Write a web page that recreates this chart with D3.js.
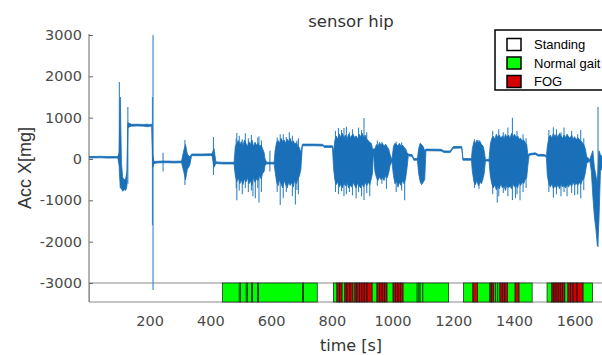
<!DOCTYPE html>
<html>
<head>
<meta charset="utf-8">
<script src="https://cdn.jsdelivr.net/npm/d3@7"></script>
<style>
  body { margin: 0; background: #fff; }
</style>
</head>
<body>
<div id="chart"></div>
<script>
// activity states: 0 standing, 1 normal gait, 2 FOG
var stateNames = ["Standing", "Normal gait", "FOG"];
var stateColors = ["#ffffff", "#00ff00", "#d40000"];

// annotation segments [start s, end s, state]
var segments = [
  [0, 440, 0], [440, 495, 1], [495, 499, 1], [499, 518, 1], [518, 522, 1], [522, 535, 1], [535, 539, 1],
  [539, 555, 1], [555, 559, 1], [559, 703, 1], [703, 707, 1], [707, 752, 1], [752, 805, 0],
  [805, 817, 1], [817, 826, 2], [826, 834, 2], [834, 843, 1], [843, 850, 2], [850, 860, 2], [860, 870, 2],
  [870, 876, 1], [876, 883, 2], [883, 891, 2], [891, 899, 2], [899, 907, 2], [907, 916, 2], [916, 933, 2],
  [933, 949, 1], [949, 958, 2], [958, 966, 2], [966, 974, 2], [974, 982, 2], [982, 1002, 1],
  [1002, 1010, 2], [1010, 1018, 2], [1018, 1026, 2], [1026, 1035, 2], [1035, 1081, 1], [1081, 1087, 1],
  [1087, 1091, 1], [1091, 1100, 1], [1100, 1185, 1], [1185, 1234, 0], [1234, 1265, 1], [1265, 1280, 2],
  [1280, 1321, 1], [1321, 1327, 2], [1327, 1334, 2], [1334, 1340, 1], [1340, 1347, 1], [1347, 1354, 1],
  [1354, 1362, 2], [1362, 1370, 2], [1370, 1379, 2], [1379, 1404, 1], [1404, 1417, 2], [1417, 1460, 1],
  [1460, 1509, 0], [1509, 1525, 1], [1525, 1532, 2], [1532, 1539, 2], [1539, 1546, 2], [1546, 1553, 2],
  [1553, 1560, 2], [1560, 1568, 2], [1568, 1578, 1], [1578, 1586, 2], [1586, 1595, 2], [1595, 1608, 2],
  [1608, 1628, 2], [1628, 1659, 1], [1659, 1700, 0]
];

// dense core of the acceleration trace [time s, min mg, max mg]
var envelope = [
  [0, 25, 60], [40, 30, 65], [60, 22, 58], [95, 25, 60],
  [99, -150, 150], [103, -700, 1500], [107, -720, -100], [111, -780, -450], [116, -740, -500],
  [121, -760, -480], [125, -650, -300],
  [128, 760, 880], [140, 795, 840], [160, 800, 840], [180, 795, 835], [192, 780, 840], [200, 795, 835], [207, 790, 840],
  [210, -200, 100], [214, -110, -60], [225, -95, -55], [240, -90, -50], [260, -90, -50], [280, -95, -55],
  [305, -90, -50], [312, -300, 200], [318, -500, 350], [324, -250, 120], [332, -150, 50],
  [338, 80, 120], [370, 80, 120], [405, 85, 125], [412, -200, 250], [418, -110, -70], [440, -120, -80], [478, -120, -80],
  [482, -400, 300], [487, -550, 380], [492, -450, 450], [497, -600, 350], [502, -500, 420], [507, -620, 300],
  [512, -480, 460], [517, -560, 380], [522, -450, 300], [527, -600, 420], [532, -520, 350], [537, -640, 460],
  [542, -450, 300], [547, -560, 400], [552, -480, 330], [557, -520, 380], [562, -400, 300], [567, -480, 340],
  [572, -350, 250], [577, -300, 150], [580, -150, 0],
  [585, -120, -80], [602, -120, -80], [610, -120, -80],
  [613, -300, 200], [618, -550, 400], [623, -650, 450], [628, -500, 380], [633, -600, 500], [638, -700, 420],
  [643, -520, 460], [648, -620, 380], [653, -700, 480], [658, -560, 420], [663, -640, 500], [668, -560, 380],
  [673, -680, 440], [678, -500, 360], [683, -600, 400], [688, -480, 300], [693, -420, 280], [698, -250, 150],
  [703, 320, 360], [740, 320, 360], [770, 315, 355], [775, 280, 320], [802, 280, 320],
  [806, -250, 200], [810, -500, 450], [815, -620, 550], [820, -550, 480], [825, -680, 600], [830, -600, 520],
  [835, -700, 620], [840, -580, 500], [845, -650, 580], [850, -560, 480], [855, -700, 600], [860, -620, 520],
  [865, -680, 560], [870, -560, 600], [875, -640, 520], [880, -700, 560], [885, -580, 480], [890, -650, 600],
  [895, -700, 540], [900, -600, 620], [905, -680, 520], [910, -560, 580], [915, -650, 480], [920, -560, 450],
  [925, -620, 400], [930, -480, 380], [934, -350, 250], [937, 190, 240],
  [942, -300, 250], [947, -450, 350], [952, -520, 300], [957, -430, 400], [962, -500, 330], [967, -450, 380],
  [972, -520, 300], [977, -400, 360], [982, -460, 300], [987, -350, 250], [992, -150, 100], [998, -60, -20],
  [1003, -400, 300], [1008, -600, 380], [1013, -520, 350], [1018, -680, 320], [1023, -560, 380], [1028, -640, 300],
  [1033, -520, 340], [1038, -600, 280], [1043, -480, 250], [1048, -200, 150],
  [1052, 80, 120], [1065, 60, 100], [1070, -30, 10], [1082, -30, 10],
  [1086, -350, 250], [1091, -550, 380], [1096, -620, 350], [1101, -560, 300], [1106, -500, 200],
  [1110, 200, 240], [1160, 195, 235], [1170, 155, 195], [1190, 155, 195], [1200, 260, 300], [1228, 265, 305],
  [1232, -30, 10], [1260, -30, 10],
  [1263, -300, 250], [1268, -550, 420], [1273, -620, 380], [1278, -520, 460], [1283, -650, 400], [1288, -560, 430],
  [1293, -600, 350], [1298, -480, 320], [1302, -350, 200], [1306, -50, -10], [1318, -50, -10],
  [1322, -400, 350], [1327, -600, 500], [1332, -700, 550], [1337, -620, 480], [1342, -750, 600], [1347, -650, 520],
  [1352, -720, 580], [1357, -600, 500], [1362, -700, 560], [1367, -640, 480], [1372, -760, 600], [1377, -620, 520],
  [1382, -700, 580], [1387, -650, 500], [1392, -720, 620], [1397, -600, 540], [1402, -680, 600], [1407, -620, 520],
  [1412, -700, 560], [1417, -560, 480], [1422, -640, 500], [1427, -560, 440], [1432, -600, 460], [1437, -500, 400],
  [1442, -450, 350], [1446, -150, 100],
  [1450, 90, 130], [1470, 110, 150], [1480, 70, 110], [1500, 70, 110], [1507, 40, 80],
  [1510, -400, 300], [1515, -600, 520], [1520, -680, 580], [1525, -600, 500], [1530, -720, 620], [1535, -640, 540],
  [1540, -700, 600], [1545, -620, 520], [1550, -720, 620], [1555, -600, 560], [1560, -680, 500], [1565, -640, 580],
  [1570, -700, 520], [1575, -620, 600], [1580, -680, 540], [1585, -600, 500], [1590, -660, 580], [1595, -560, 480],
  [1600, -640, 540], [1605, -580, 460], [1610, -640, 520], [1615, -560, 480], [1620, -620, 440], [1625, -520, 400],
  [1630, -480, 350], [1635, -350, 250], [1640, -100, 50], [1650, -50, -10],
  [1655, -300, 100], [1660, -900, 200], [1665, -1400, -200], [1670, -1700, -400], [1675, -2100, -600],
  [1680, -1500, 200], [1685, -300, 100], [1700, -60, -20]
];

// single tall excursions [time s, min mg, max mg]
var spikes = [
  [100, -100, 1860], [128, -600, 1260], [209, -1600, 1500], [211, -3170, 3000], [244, -300, 150],
  [316, -630, 460], [410, -390, 530],
  [485, -700, 500], [487, -1000, 630], [495, -760, 560], [505, -850, 480], [515, -700, 620], [525, -800, 500],
  [535, -760, 580], [540, -900, 300], [548, -950, 400], [556, -700, 520], [560, -1050, 550], [568, -800, 450],
  [596, -300, 200],
  [620, -800, 520], [630, -1110, 600], [640, -950, 600], [650, -800, 530], [660, -300, 650], [670, -900, 560],
  [680, -1100, 300], [685, -750, 450], [690, -850, 500],
  [812, -800, 680], [822, -850, 750], [832, -780, 700], [840, -900, 750], [848, -850, 780], [858, -800, 650],
  [868, -880, 720], [880, -950, 500], [888, -800, 760], [898, -900, 700], [906, -990, 990], [915, -820, 650],
  [925, -900, 300], [950, -650, 450], [965, -600, 420], [980, -720, 300],
  [1012, -800, 420], [1030, -760, 400], [1040, -1000, 200],
  [1270, -700, 480], [1285, -720, 460],
  [1330, -850, 680], [1345, -1060, 500], [1350, -900, 720], [1365, -820, 650], [1380, -900, 760],
  [1395, -990, 1000], [1405, -950, 300], [1410, -850, 680], [1420, -1000, 400], [1430, -800, 600], [1440, -700, 500],
  [1515, -800, 700], [1530, -940, 770], [1540, -850, 720], [1555, -900, 650], [1565, -800, 760], [1575, -900, 500],
  [1590, -820, 680], [1600, -880, 300], [1610, -860, 600], [1620, -950, 700], [1630, -750, 500],
  [1677, -2130, 1260]
];

var xTicks = [200, 400, 600, 800, 1000, 1200, 1400, 1600];
var yTicks = [-3000, -2000, -1000, 0, 1000, 2000, 3000];

var w = 602, h = 355;
var lineBlue = "#1a70b8";
var textGray = "#4a4a4a";

var x = d3.scaleLinear().domain([0, 1700]).range([89, 605]);
var y = d3.scaleLinear().domain([-3000, 3000]).range([283, 35]);
var bandLow = -3460;   // bottom of the annotation strip

var svg = d3.select("#chart").append("svg")
    .attr("width", w)
    .attr("height", h)
    .style("font-family", "DejaVu Sans, sans-serif");

svg.append("defs").append("clipPath").attr("id", "plotClip")
  .append("rect")
    .attr("x", x(0)).attr("y", 0)
    .attr("width", w - x(0)).attr("height", h);

//annotation strip
var band = svg.append("g").attr("clip-path", "url(#plotClip)");
band.append("rect")
    .attr("x", x(0)).attr("y", y(-3000))
    .attr("width", x(1700) - x(0))
    .attr("height", y(bandLow) - y(-3000))
    .attr("fill", "#fff")
    .attr("stroke", "#8a8a8a")
    .attr("stroke-width", 1);

band.selectAll("rect.seg")
    .data(segments.filter(function (d) { return d[2] !== 0; }))
  .enter().append("rect")
    .attr("class", "seg")
    .attr("x", function (d) { return x(d[0]); })
    .attr("y", y(-3000))
    .attr("width", function (d) { return x(d[1]) - x(d[0]); })
    .attr("height", y(bandLow) - y(-3000))
    .attr("fill", function (d) { return stateColors[d[2]]; })
    .attr("stroke", "#1a1a1a")
    .attr("stroke-width", function (d) { return d[2] === 2 ? 0.9 : 0.7; });

//signal
var sig = svg.append("g").attr("clip-path", "url(#plotClip)");

sig.selectAll("line.spike")
    .data(spikes)
  .enter().append("line")
    .attr("class", "spike")
    .attr("x1", function (d) { return x(d[0]); })
    .attr("x2", function (d) { return x(d[0]); })
    .attr("y1", function (d) { return y(d[1]); })
    .attr("y2", function (d) { return y(d[2]); })
    .attr("stroke", "#3385c8")
    .attr("stroke-width", 1.1);

var area = d3.area()
    .x(function (d) { return x(d[0]); })
    .y0(function (d) { return y(d[1]); })
    .y1(function (d) { return y(d[2]); });

sig.append("path")
    .datum(envelope)
    .attr("d", area)
    .attr("fill", lineBlue)
    .attr("stroke", lineBlue)
    .attr("stroke-width", 0.8)
    .attr("stroke-linejoin", "round");

//axes
var yAxis = svg.append("g")
    .attr("transform", "translate(" + x(0) + ",0)")
    .call(d3.axisLeft(y).tickValues(yTicks).tickSize(-4).tickSizeOuter(0).tickPadding(7)
        .tickFormat(function (d) { return String(d); }));
yAxis.select(".domain").remove();
yAxis.selectAll("line").attr("stroke", "#666");
yAxis.selectAll("text")
    .attr("fill", textGray)
    .style("font-size", "14.5px")
    .style("font-family", "DejaVu Sans, sans-serif");

svg.append("line")
    .attr("x1", x(0)).attr("x2", x(0))
    .attr("y1", y(3000) - 1).attr("y2", y(bandLow))
    .attr("stroke", "#666")
    .attr("stroke-width", 1);

var xAxis = svg.append("g")
    .attr("transform", "translate(0," + y(bandLow) + ")")
    .call(d3.axisBottom(x).tickValues(xTicks).tickSize(0).tickPadding(14)
        .tickFormat(function (d) { return String(d); }));
xAxis.select(".domain").remove();
xAxis.selectAll("text")
    .attr("fill", textGray)
    .style("font-size", "14.5px")
    .style("font-family", "DejaVu Sans, sans-serif");

//titles
svg.append("text")
    .text("sensor hip")
    .attr("x", 351)
    .attr("y", 26.5)
    .attr("text-anchor", "middle")
    .attr("fill", "#333")
    .style("font-size", "16.5px");

svg.append("text")
    .text("time [s]")
    .attr("x", 351)
    .attr("y", 351)
    .attr("text-anchor", "middle")
    .attr("fill", "#333")
    .style("font-size", "16px");

svg.append("text")
    .text("Acc X[mg]")
    .attr("transform", "translate(31,168) rotate(-90)")
    .attr("text-anchor", "middle")
    .attr("fill", "#333")
    .style("font-family", "Liberation Sans, Arial, sans-serif")
    .style("font-size", "18px");

//legend
var legend = svg.append("g").attr("transform", "translate(495,30)");
legend.append("rect")
    .attr("width", 130).attr("height", 60)
    .attr("fill", "#fff")
    .attr("stroke", "#000")
    .attr("stroke-width", 1.5);

var items = legend.selectAll("g.item")
    .data(stateNames)
  .enter().append("g")
    .attr("class", "item")
    .attr("transform", function (d, i) { return "translate(0," + (8.5 + i * 18.5) + ")"; });

items.append("rect")
    .attr("x", 12).attr("width", 14).attr("height", 12)
    .attr("fill", function (d, i) { return stateColors[i]; })
    .attr("stroke", "#000")
    .attr("stroke-width", 1.5);

items.append("text")
    .text(function (d) { return d; })
    .attr("x", 39)
    .attr("y", 10.5)
    .attr("fill", "#000")
    .style("font-family", "Liberation Sans, Arial, sans-serif")
    .style("font-size", "13px");
</script>
</body>
</html>
